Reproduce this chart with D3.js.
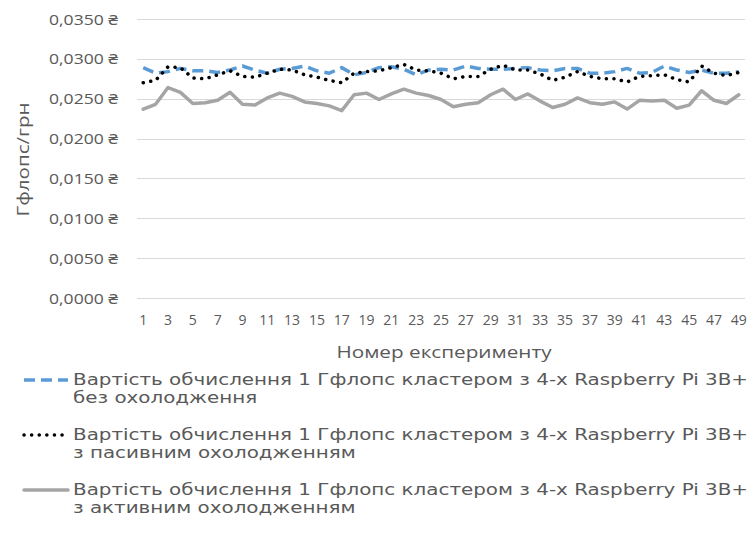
<!DOCTYPE html>
<html>
<head>
<meta charset="utf-8">
<script src="https://cdn.jsdelivr.net/npm/d3@7"></script>
<style>
  html, body { margin: 0; padding: 0; background: #fff; }
  svg { display: block; }
  text { font-family: "Open Sans", "Noto Sans", "DejaVu Sans", sans-serif; fill: #595959; }
</style>
</head>
<body>
<svg id="chart" width="753" height="558"></svg>
<script>
// ---------------- DATA ----------------
const experiments = d3.range(1, 50).map(String);

const noCooling = [
  0.0289, 0.0282, 0.0284, 0.0288, 0.0285, 0.0285, 0.0283, 0.0286, 0.0291, 0.0286,
  0.0282, 0.0287, 0.0288, 0.0291, 0.0285, 0.0282, 0.0289, 0.0280, 0.0283, 0.0289,
  0.0290, 0.0287, 0.0280, 0.0286, 0.0287, 0.0286, 0.0291, 0.0288, 0.0287, 0.0287,
  0.0288, 0.0289, 0.0286, 0.0285, 0.0288, 0.0288, 0.0282, 0.0282, 0.0284, 0.0288,
  0.0282, 0.0283, 0.0291, 0.0286, 0.0283, 0.0286, 0.0282, 0.0282, 0.0284
];

const passiveCooling = [
  0.0270, 0.0273, 0.0290, 0.0289, 0.0276, 0.0275, 0.0280, 0.0285, 0.0278, 0.0277,
  0.0282, 0.0287, 0.0286, 0.0280, 0.0277, 0.0273, 0.0270, 0.0282, 0.0284, 0.0285,
  0.0289, 0.0293, 0.0286, 0.0285, 0.0282, 0.0275, 0.0278, 0.0278, 0.0287, 0.0292,
  0.0286, 0.0286, 0.0281, 0.0273, 0.0277, 0.0284, 0.0278, 0.0275, 0.0275, 0.0271,
  0.0278, 0.0279, 0.0280, 0.0274, 0.0271, 0.0291, 0.0282, 0.0279, 0.0283
];

const activeCooling = [
  0.0237, 0.0243, 0.0264, 0.0258, 0.0244, 0.0245, 0.0248, 0.0258, 0.0243, 0.0242,
  0.0251, 0.0257, 0.0253, 0.0246, 0.0244, 0.0241, 0.0235, 0.0255, 0.0257, 0.0249,
  0.0256, 0.0262, 0.0257, 0.0254, 0.0249, 0.0240, 0.0243, 0.0245, 0.0255, 0.0262,
  0.0249, 0.0256, 0.0247, 0.0239, 0.0243, 0.0251, 0.0245, 0.0243, 0.0246, 0.0237,
  0.0248, 0.0247, 0.0248, 0.0238, 0.0242, 0.0260, 0.0248, 0.0244, 0.0255
];

const yTicks = [0, 0.005, 0.010, 0.015, 0.020, 0.025, 0.030, 0.035];
const xTickLabels = experiments.filter((d, i) => i % 2 === 0);

const legendLine1 = "Вартість обчислення 1 Гфлопс кластером з 4-х Raspberry Pi 3B+";
const legendLine2 = ["без охолодження", "з пасивним охолодженням", "з активним охолодженням"];
const yAxisTitle = "Гфлопс/грн";
const xAxisTitle = "Номер експерименту";

// ---------------- CHART ----------------
const svg = d3.select("#chart");
const plot = { left: 137, right: 745, top: 19, bottom: 298 };

const x = d3.scaleBand().domain(experiments).range([plot.left, plot.right]).paddingInner(0).paddingOuter(0);
const y = d3.scaleLinear().domain([0, 0.035]).range([plot.bottom, plot.top]);

const locale = d3.formatLocale({ decimal: ",", thousands: " ", grouping: [3], currency: ["", " ₴"] });
const fmt = locale.format(".4f");

// stretch a text horizontally by a ratio (reference text is wide)
function stretch(sel, ratio) {
  sel.each(function () {
    const w = this.getComputedTextLength();
    if (w > 0) d3.select(this).attr("textLength", w * ratio).attr("lengthAdjust", "spacingAndGlyphs");
  });
}

// gridlines
svg.append("g")
  .selectAll("line")
  .data(yTicks)
  .join("line")
  .attr("x1", plot.left).attr("x2", plot.right)
  .attr("y1", d => Math.round(y(d)) + 0.5).attr("y2", d => Math.round(y(d)) + 0.5)
  .attr("stroke", "#D9D9D9").attr("stroke-width", 1);

// y axis labels
const yAxis = d3.axisLeft(y).tickValues(yTicks).tickSize(0).tickPadding(0)
  .tickFormat(d => fmt(d) + " ₴");
const gy = svg.append("g").attr("transform", `translate(118,0)`).call(yAxis);
gy.select(".domain").remove();
const yLabels = gy.selectAll("text")
  .attr("font-size", 14).attr("dy", "0.36em")
  .style("font-family", '"Open Sans", "Noto Sans", sans-serif').attr("fill", "#595959");
{
  const w0 = yLabels.nodes()[0].getComputedTextLength();
  stretch(yLabels, 69 / w0);
}

// x axis labels
const xAxis = d3.axisBottom(x).tickSize(0).tickPadding(0)
  .tickFormat(d => xTickLabels.includes(d) ? d : "");
const gx = svg.append("g").attr("transform", `translate(0,325)`).call(xAxis);
gx.select(".domain").remove();
gx.selectAll("text").attr("font-size", 14).attr("dy", 0).attr("y", 0).attr("fill", "#595959")
  .style("font-family", '"Open Sans", "Noto Sans", sans-serif');

// axis titles
const yt = svg.append("text")
  .attr("transform", `translate(29,${(plot.top + plot.bottom) / 2 + 1}) rotate(-90)`)
  .attr("text-anchor", "middle")
  .attr("font-size", 17)
  .text(yAxisTitle);
stretch(yt, 114 / yt.node().getComputedTextLength());

const xt = svg.append("text")
  .attr("x", (plot.left + plot.right) / 2 + 3)
  .attr("y", 358)
  .attr("text-anchor", "middle")
  .attr("font-size", 17)
  .text(xAxisTitle);
stretch(xt, 215 / xt.node().getComputedTextLength());

// lines
const cx = d => x(d) + x.bandwidth() / 2;
const lineGen = d3.line().x((d, i) => cx(experiments[i])).y(d => y(d));

const styles = [
  { data: noCooling, color: "#5B9BD5", width: 3.5, dash: "11,6", cap: "butt" },
  { data: passiveCooling, color: "#000000", width: 3.5, dash: "0.1,7.5", cap: "round" },
  { data: activeCooling, color: "#A5A5A5", width: 3.5, dash: null, cap: "round" }
];

const drawOrder = [2, 0, 1];
drawOrder.forEach(k => {
  const s = styles[k];
  svg.append("path")
    .datum(s.data)
    .attr("d", lineGen)
    .attr("fill", "none")
    .attr("stroke", s.color)
    .attr("stroke-width", s.width)
    .attr("stroke-linejoin", "round")
    .attr("stroke-linecap", s.cap)
    .attr("stroke-dasharray", s.dash);
});

// legend
const legendY = [380, 435, 490];
styles.forEach((s, i) => {
  const g = svg.append("g");
  g.append("line")
    .attr("x1", 24).attr("x2", 68)
    .attr("y1", legendY[i]).attr("y2", legendY[i])
    .attr("stroke", s.color).attr("stroke-width", s.width)
    .attr("stroke-linecap", s.cap)
    .attr("stroke-dasharray", s.dash);
  const t1 = g.append("text")
    .attr("x", 73).attr("y", legendY[i] + 5)
    .attr("font-size", 15)
    .style("font-family", '"DejaVu Sans", sans-serif')
    .text(legendLine1);
  const ratio = 675 / t1.node().getComputedTextLength();
  stretch(t1, ratio);
  const t2 = g.append("text")
    .attr("x", 73).attr("y", legendY[i] + 23)
    .attr("font-size", 15)
    .style("font-family", '"DejaVu Sans", sans-serif')
    .text(legendLine2[i]);
  stretch(t2, ratio);
});
</script>
</body>
</html>
